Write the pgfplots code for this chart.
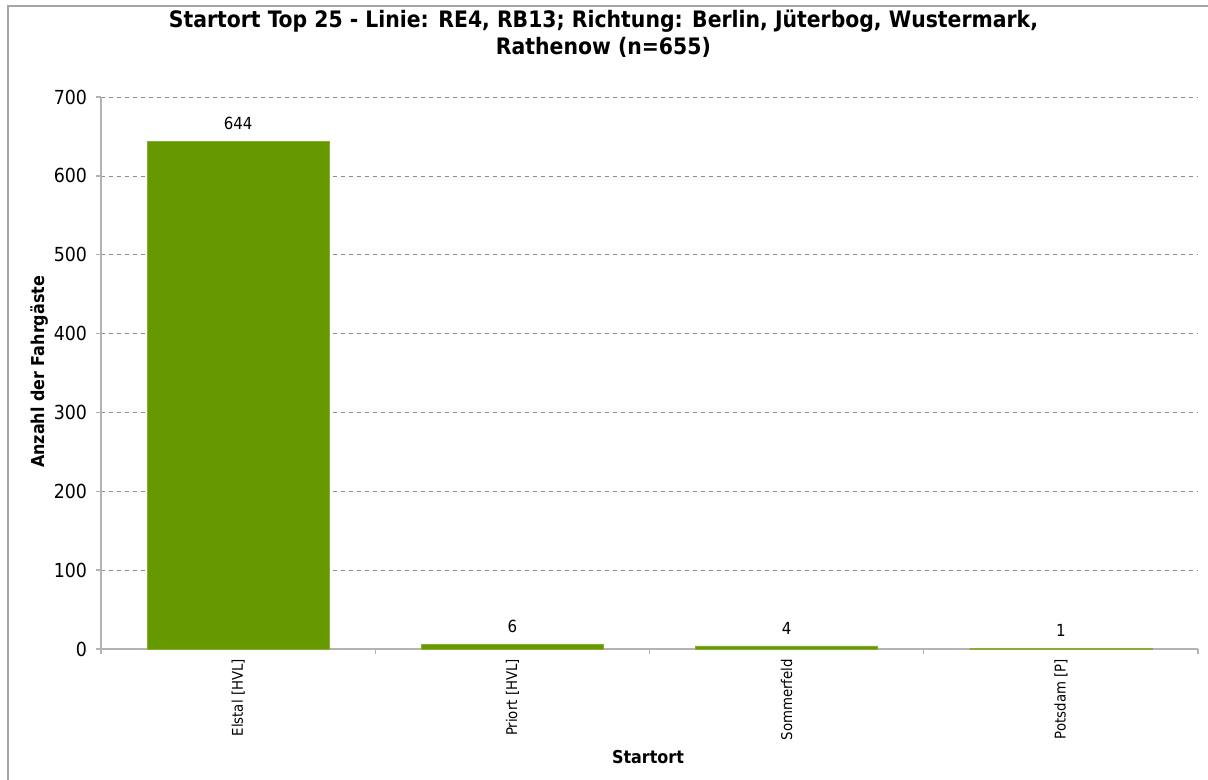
\documentclass[border=0pt]{standalone}
\usepackage{pgfplots}
\pgfplotsset{compat=1.18}
\usepackage{fontspec}
\setmainfont{DejaVu Sans Condensed}
\definecolor{bargreen}{HTML}{669900}
\definecolor{axisgray}{HTML}{B3B3B3}
\definecolor{gridgray}{HTML}{8C8C8C}
\definecolor{framegray}{HTML}{A6A6A6}
\begin{document}
\begin{tikzpicture}
\useasboundingbox (0pt,0pt) rectangle (906pt,585pt);
\draw[framegray, line width=1.4pt] (6pt,-2pt) -- (6pt,580.5pt) -- (910pt,580.5pt);
\begin{axis}[
  at={(75.75pt,98.25pt)}, anchor=south west,
  scale only axis, width=822.75pt, height=414pt,
  xmin=-0.5, xmax=3.5, ymin=0, ymax=700,
  ytick={0,100,...,700},
  xtick={0,1,2,3},
  xticklabels={Elstal [HVL],Priort [HVL],Sommerfeld,Potsdam [P]},
  minor xtick={-0.5,0.5,1.5,2.5,3.5},
  major x tick style={draw=none},
  axis x line*=bottom, axis y line*=left,
  axis line style={axisgray, line width=1.3pt, -},
  tick style={axisgray, line width=1pt},
  tick align=outside,
  major tick length=4pt, minor tick length=4pt,
  ymajorgrids, grid style={dashed, gridgray, line width=0.5pt},
  /pgf/number format/assume math mode=true,
  yticklabel style={font=\fontsize{14.5}{17}\selectfont, xshift=-3pt},
  xticklabel style={rotate=90, anchor=east, font=\fontsize{11.1}{13}\selectfont},
  title={Startort Top 25 - Linie: RE4, RB13; Richtung: Berlin, Jüterbog, Wustermark,\\Rathenow (n=655)},
  title style={at={(axis description cs:0.458,1.1)}, anchor=center, align=center, font=\bfseries\fontsize{17}{20}\selectfont},
  ylabel={Anzahl der Fahrgäste},
  ylabel style={at={(axis description cs:-0.0556,0.502)}, anchor=center, font=\bfseries\fontsize{13.3}{15}\selectfont},
  xlabel={Startort},
  xlabel style={at={(axis description cs:0.4986,-0.196)}, anchor=center, font=\bfseries\fontsize{13.3}{15}\selectfont},
  nodes near coords,
  every node near coord/.append style={font=\fontsize{12.5}{14}\selectfont, /pgf/number format/assume math mode=true, yshift=5pt},
  clip=false,
]
\addplot[ybar, bar width=0.663, fill=bargreen, draw=bargreen!80!white] coordinates {(0,644) (1,6) (2,4) (3,1)};
\end{axis}
\end{tikzpicture}
\end{document}
